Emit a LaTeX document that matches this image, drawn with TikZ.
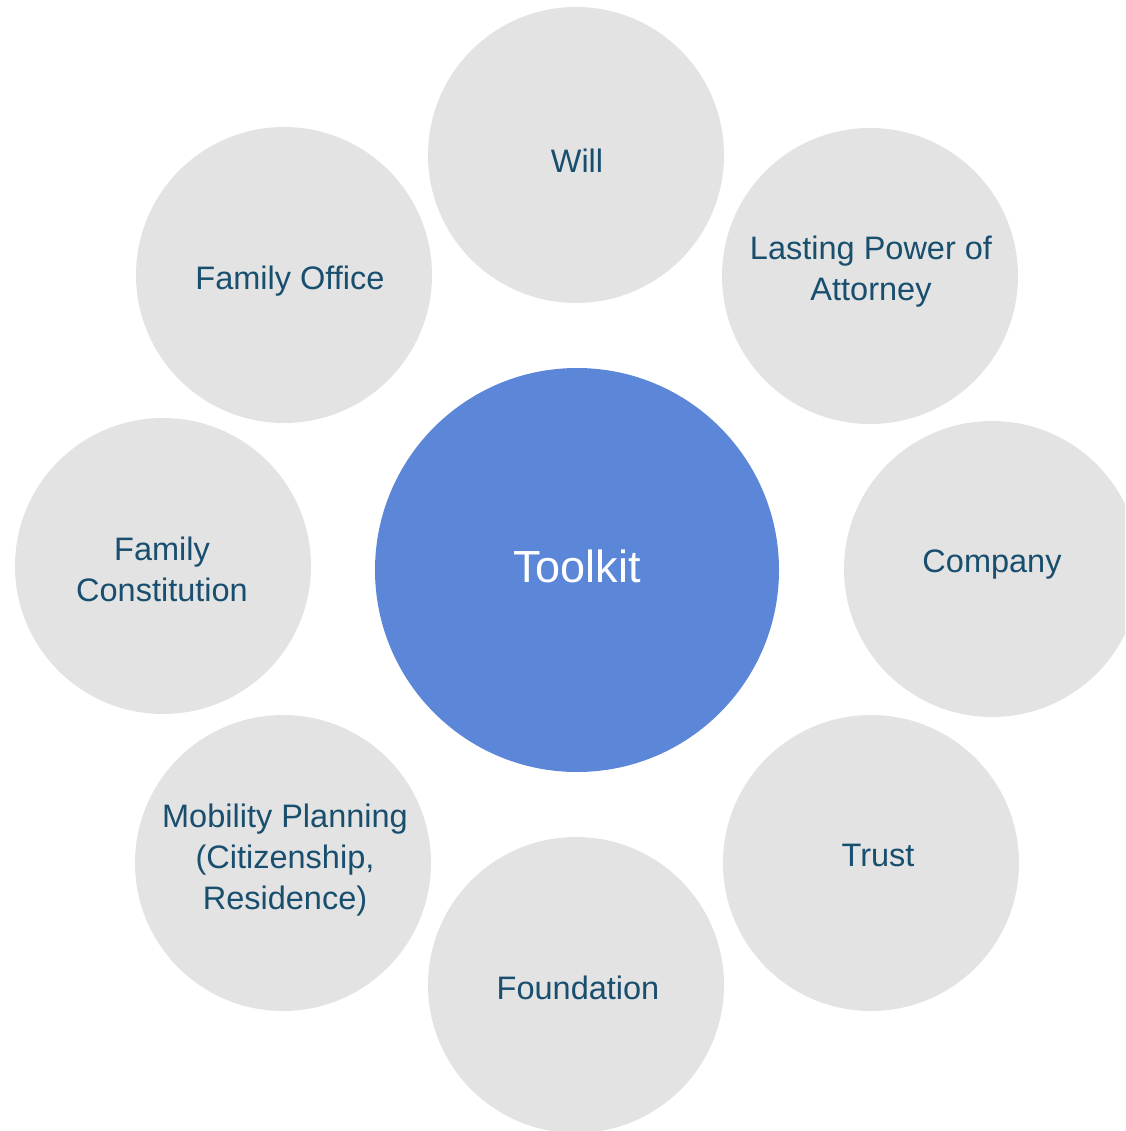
\documentclass[tikz,border=0pt]{standalone}
\usepackage{fontspec}
\setmainfont{Liberation Sans}
\definecolor{bubble}{RGB}{227,227,227}
\definecolor{core}{RGB}{92,135,217}
\definecolor{ink}{RGB}{24,78,110}
\begin{document}
\begin{tikzpicture}[x=1pt,y=-1pt,
  bubble/.style={circle,fill=bubble,draw=none,minimum size=296pt,inner sep=0pt},
  corebubble/.style={circle,fill=core,draw=none,minimum size=404pt,inner sep=0pt},
  lbl/.style={text=ink,align=center,font=\fontsize{32.5pt}{41pt}\selectfont,inner sep=0pt},
  corelbl/.style={text=white,align=center,font=\fontsize{45pt}{54pt}\selectfont,inner sep=0pt}]
\useasboundingbox (0,0) rectangle (1125,1131);
\clip (0,0) rectangle (1125,1131);
\node[bubble] (will) at (576,155) {};
\node[bubble] (lpa) at (870,276) {};
\node[bubble] (company) at (992,569) {};
\node[bubble] (trust) at (871,863) {};
\node[bubble] (foundation) at (576,985) {};
\node[bubble] (mobility) at (283,863) {};
\node[bubble] (constitution) at (163,566) {};
\node[bubble] (office) at (284,275) {};
\node[corebubble] (toolkit) at (577,570) {};
\node[lbl] (willt) at (577,161) {Will};
\node[lbl] (lpat) at (871,272) {Lasting Power of\\Attorney};
\node[lbl] (companyt) at (992,565) {Company};
\node[lbl] (trustt) at (878,855) {Trust};
\node[lbl] (foundationt) at (578,988) {Foundation};
\node[lbl] (mobilityt) at (285,860) {Mobility Planning\\(Citizenship,\\Residence)};
\node[lbl] (constitutiont) at (162,569) {Family\\Constitution};
\node[lbl] (officet) at (290,281) {Family Office};
\node[corelbl] (toolkitt) at (577,566) {Toolkit};
\end{tikzpicture}
\end{document}
